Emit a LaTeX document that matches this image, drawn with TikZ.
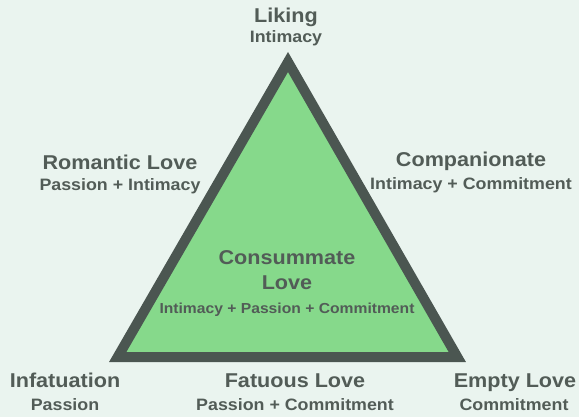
\documentclass[tikz,border=0pt]{standalone}
\usepackage{fontspec}
\setmainfont{Liberation Sans}
\newfontfamily\lblfont{Liberation Sans}[FakeStretch=1.08]
\usepackage{xcolor}
\usetikzlibrary{positioning}

\definecolor{bgmint}{HTML}{EAF4EF}
\definecolor{edgegrey}{HTML}{4B5651}
\definecolor{lovegreen}{HTML}{86D98B}
\definecolor{textgrey}{HTML}{525C57}

\newcommand{\ttl}[1]{{\lblfont\fontsize{20}{22}\selectfont\bfseries #1}}
\newcommand{\sub}[1]{{\lblfont\fontsize{16.5}{18}\selectfont\bfseries #1}}
\newcommand{\subsmall}[1]{{\lblfont\fontsize{14.5}{17}\selectfont\bfseries #1}}

\begin{document}
\begin{tikzpicture}[
        x=1pt, y=-1pt,
        label/.style={text=textgrey, align=center, anchor=base, inner sep=0pt},
        side/.style={draw=edgegrey, line width=10pt, line join=miter, fill=lovegreen}
    ]
        % Background
        \fill[bgmint] (0,0) rectangle (579,417);
        \useasboundingbox (0,0) rectangle (579,417);

        % Corners
        \coordinate (apex) at (288,62);
        \coordinate (left) at (117.7,357);
        \coordinate (right) at (457.3,357);

        % Triangle
        \draw[side] (apex) -- (left) -- (right) -- cycle;

        % Labels
        \node[label] (liking) at (286,23) {\ttl{Liking}};
        \node[label] (likingsub) at (286,43) {\sub{Intimacy}};
        \node[label] (romantic) at (120,170) {\ttl{Romantic Love}};
        \node[label] (romanticsub) at (120,191) {\sub{Passion + Intimacy}};
        \node[label] (companion) at (471,167) {\ttl{Companionate}};
        \node[label] (companionsub) at (471,190) {\sub{Intimacy + Commitment}};
        \node[label] (consummate) at (287,265) {\ttl{Consummate}};
        \node[label] (consummatelove) at (287,290) {\ttl{Love}};
        \node[label] (consummatesub) at (287,313) {\subsmall{Intimacy + Passion + Commitment}};
        \node[label] (infatuation) at (65,387) {\ttl{Infatuation}};
        \node[label] (infatuationsub) at (65,410) {\sub{Passion}};
        \node[label] (fatuous) at (295,387) {\ttl{Fatuous Love}};
        \node[label] (fatuoussub) at (295,410) {\sub{Passion + Commitment}};
        \node[label] (empty) at (515,387) {\ttl{Empty Love}};
        \node[label] (emptysub) at (514,410) {\sub{Commitment}};
    \end{tikzpicture}
\end{document}
